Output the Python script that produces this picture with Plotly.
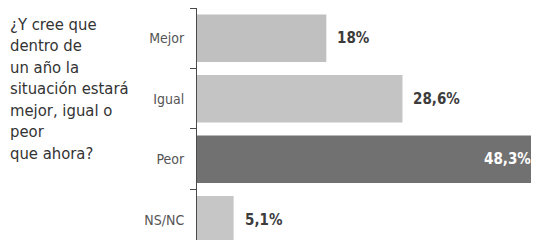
import plotly.graph_objects as go

categories = ["Mejor", "Igual", "Peor", "NS/NC"]
values = [18.0, 28.6, 48.3, 5.1]
value_labels = ["18%", "28,6%", "48,3%", "5,1%"]
bar_colors = ["#c0c0c0", "#c4c4c4", "#717171", "#c6c6c6"]
question = "¿Y cree que<br>dentro de<br>un año la<br>situación estará<br>mejor, igual o<br>peor<br>que ahora?"

FONT = "Liberation Sans Narrow, DejaVu Sans Condensed, Roboto Condensed, Arial Narrow, sans-serif"

fig = go.Figure()
fig.add_trace(go.Bar(
    x=values, y=categories, orientation="h",
    marker=dict(color=bar_colors, line=dict(width=0)),
    hoverinfo="skip",
))

XMAX = 47.6
annotations = []
for cat, v, lab in zip(categories, values, value_labels):
    if v > XMAX * 0.9:
        annotations.append(dict(
            x=1, xref="paper", y=cat, yref="y", text="<b>" + lab + "</b>",
            xanchor="right", yanchor="middle", xshift=-6, showarrow=False,
            font=dict(family=FONT, size=15, color="#ffffff"),
        ))
    else:
        annotations.append(dict(
            x=v, xref="x", y=cat, yref="y", text="<b>" + lab + "</b>",
            xanchor="left", yanchor="middle", xshift=9, showarrow=False,
            font=dict(family=FONT, size=15, color="#3c3c3c"),
        ))

annotations.append(dict(
    x=-0.553, xref="paper", y=1.0, yref="paper", text=question,
    xanchor="left", yanchor="top", align="left", showarrow=False, yshift=-5,
    font=dict(family=FONT, size=16.5, color="#333333"),
))

fig.update_layout(
    width=531, height=232,
    margin=dict(l=189, r=0, t=0, b=0, autoexpand=False),
    paper_bgcolor="#ffffff", plot_bgcolor="#ffffff",
    bargap=0.215,
    showlegend=False,
    annotations=annotations,
    xaxis=dict(range=[0, XMAX], visible=False, fixedrange=True),
    yaxis=dict(
        range=[3.335, -0.5], type="category",
        showline=True, linecolor="#4a4a4a", linewidth=1,
        ticks="outside", tickson="boundaries", ticklen=6, tickcolor="#4a4a4a", tickwidth=1,
        showgrid=False, zeroline=False,
        tickfont=dict(family=FONT, size=14, color="#555555"),
        ticklabelstandoff=9,
        automargin=False,
        fixedrange=True,
    ),
)

fig.write_html("out.html")
